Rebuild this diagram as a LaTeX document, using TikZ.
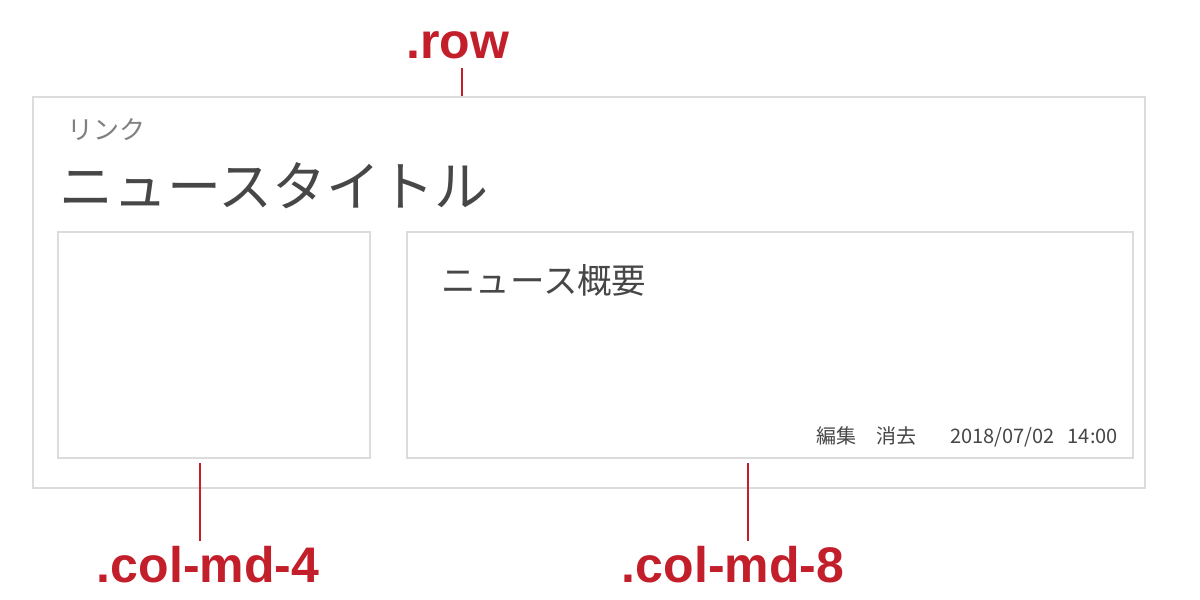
\documentclass[tikz,border=0pt]{standalone}
\usepackage{fontspec}
\setmainfont{Liberation Sans}
\newfontfamily\jp{Noto Sans CJK JP}
\definecolor{lbred}{HTML}{C21F2B}
\definecolor{boxgray}{HTML}{DCDCDC}
\begin{document}
\begin{tikzpicture}[x=1pt,y=-1pt,
  frame/.style={draw=boxgray,line width=2.5pt},
  lbl/.style={text=lbred,font=\fontsize{50}{50}\selectfont\bfseries,inner sep=0pt},
  lead/.style={draw=lbred,line width=2.5pt},
  jtxt/.style={inner sep=0pt,anchor=west}]
\useasboundingbox (0,0) rectangle (1200,600);
\fill[white] (0,0) rectangle (1200,600);
% boxes
\draw[frame] (33,97) rectangle (1145,488);
\draw[frame] (58,232) rectangle (370,458);
\draw[frame] (407,232) rectangle (1133,458);
% texts
\node[jtxt,text=black!50,font=\jp\fontsize{26}{26}\selectfont] (link) at (67,130) {リンク};
\node[jtxt,text=black!72,font=\jp\fontsize{54}{54}\selectfont] (title) at (59,186) {ニュースタイトル};
\node[jtxt,text=black!72,font=\jp\fontsize{34.5}{34.5}\selectfont] (summary) at (441,280) {ニュース概要};
\node[inner sep=0pt,anchor=east,text=black!72,font=\jp\fontsize{20}{20}\selectfont] (meta) at (1118,437) {編集\hspace{20pt}消去\hspace{34pt}2018/07/02\hspace{13pt}14:00};
% labels
\node[lbl] (row) at (458,45) {.row};
\node[lbl] (c4) at (208,565) {.col-md-4};
\node[lbl] (c8) at (733,565) {.col-md-8};
\coordinate (rowt) at (462,68);
\coordinate (rowb) at (462,96);
\coordinate (c4t) at (200,463);
\coordinate (c4b) at (200,541);
\coordinate (c8t) at (748,463);
\coordinate (c8b) at (748,541);
\draw[lead] (rowt) -- (rowb);
\draw[lead] (c4t) -- (c4b);
\draw[lead] (c8t) -- (c8b);
\end{tikzpicture}
\end{document}
